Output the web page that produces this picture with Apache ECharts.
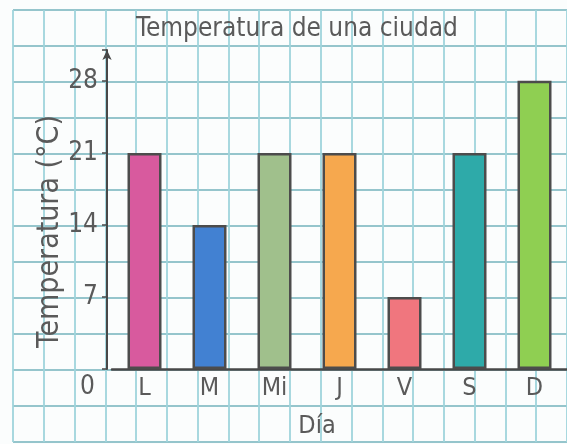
<!DOCTYPE html>
<html>
<head>
<meta charset="utf-8">
<script src="https://cdn.jsdelivr.net/npm/echarts@6/dist/echarts.min.js"></script>
<style>
  html, body { margin: 0; padding: 0; background: #fbfdfd; }
  #chart { width: 567px; height: 444px; }
</style>
</head>
<body>
<div id="chart"></div>
<script>
const days = ['L', 'M', 'Mi', 'J', 'V', 'S', 'D'];
const temps = [21, 14, 21, 21, 7, 21, 28];
const barColors = ['#d85a9e', '#4281d2', '#a0c08c', '#f6a84e', '#f0767e', '#2eaaa9', '#8fcf52'];
const yTicks = [0, 7, 14, 21, 28];

const font = '"DejaVu Sans Condensed", "Open Sans", sans-serif';
const ink = '#5a5a5a';

const chart = echarts.init(document.getElementById('chart'));

const option = {
  animation: false,
  title: {
    text: 'Temperatura de una ciudad',
    left: 292,
    top: 11,
    textAlign: 'center',
    textStyle: { fontFamily: font, fontSize: 26, fontWeight: 'normal', color: ink },
  },
  grid: [
    // squared paper in the background
    { left: 13, top: 10, width: 558, height: 432, z: 0 },
    // the chart itself
    { left: 112, right: -8, top: 50, bottom: 74 },
  ],
  xAxis: [
    {
      gridIndex: 0, type: 'value', min: 0, max: 18, interval: 1,
      axisLine: { show: false }, axisTick: { show: false }, axisLabel: { show: false },
      splitLine: { lineStyle: { color: '#9fd4dc', width: 1.8 } },
    },
    {
      gridIndex: 1,
      type: 'category',
      data: days,
      axisLine: { lineStyle: { color: '#484848', width: 2.5 } },
      axisTick: { show: false },
      axisLabel: { fontFamily: font, fontSize: 25, color: ink, margin: 7 },
      name: 'Día',
      nameLocation: 'middle',
      nameGap: 45,
      nameTextStyle: { fontFamily: font, fontSize: 25, color: ink, padding: [0, 45, 0, 0] },
    },
  ],
  yAxis: [
    {
      gridIndex: 0, type: 'value', min: 0, max: 12, interval: 1,
      axisLine: { show: false }, axisTick: { show: false }, axisLabel: { show: false },
      splitLine: { lineStyle: { color: '#95c5cc', width: 1.8 } },
    },
    {
      gridIndex: 1,
      type: 'value',
      min: 0,
      max: 31,
      interval: 7,
      offset: 5,
      axisLine: {
        show: true,
        symbol: ['none', 'arrow'],
        symbolSize: [7, 10],
        lineStyle: { color: '#484848', width: 2 },
      },
      axisTick: { show: true, length: 5, lineStyle: { color: '#484848', width: 1.5 } },
      splitLine: { show: false },
      axisLabel: {
        fontFamily: font,
        fontSize: 26,
        color: ink,
        margin: 9,
        formatter: v => (v === 0 ? '{z|0}' : yTicks.includes(v) ? String(v) : ''),
        rich: {
          z: { fontFamily: font, fontSize: 26, color: ink, padding: [36, 3, 0, 0] },
        },
      },
      name: 'Temperatura (°C)',
      nameLocation: 'middle',
      nameGap: 42,
      nameMoveOverlap: false,
      nameTextStyle: { fontFamily: font, fontSize: 30, color: ink, padding: [0, 44, 0, 0] },
    },
  ],
  series: [
    {
      type: 'bar',
      xAxisIndex: 1,
      yAxisIndex: 1,
      barWidth: 34,
      data: temps.map((v, i) => ({
        value: v,
        itemStyle: { color: barColors[i] },
      })),
      itemStyle: { borderColor: '#4c4c4c', borderWidth: 2.5 },
    },
  ],
};

chart.setOption(option);
</script>
</body>
</html>
